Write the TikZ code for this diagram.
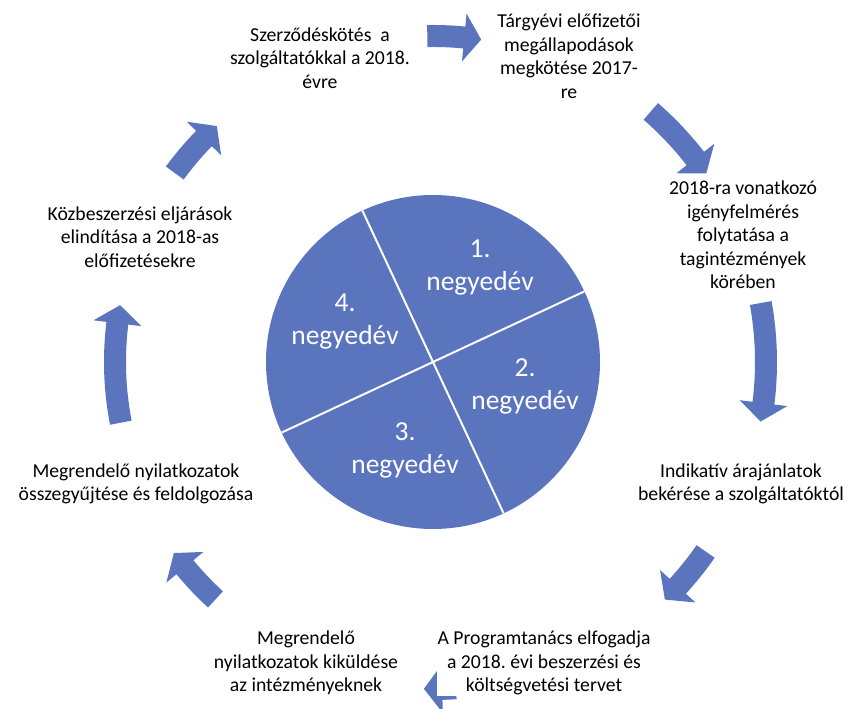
\documentclass[tikz,border=0pt]{standalone}
\usepackage{fontspec}
\setmainfont{Carlito}
\frenchspacing
\newlength{\du}
\setlength{\du}{1pt}
\definecolor{cyclecolor}{RGB}{91,116,190}
% curved block arrow round the cycle centre: tail angle, head base angle, tip angle, radius
\newcommand{\cycarrow}[4]{%
\pgfmathsetmacro{\rout}{#4+11}\pgfmathsetmacro{\rin}{#4-11}%
\pgfmathsetmacro{\hout}{#4+24}\pgfmathsetmacro{\hin}{#4-24}%
\fill[cyclecolor,shift={(433\du,347\du)}] (#1:\rout\du) arc[start angle=#1,end angle=#2,radius=\rout\du]
 -- (#2:\hout\du) -- (#3:#4\du) -- (#2:\hin\du) -- (#2:\rin\du)
 arc[start angle=#2,end angle=#1,radius=\rin\du] -- cycle;}

\begin{document}
\begin{tikzpicture}[
  lbl/.style={align=center,fill=white,inner sep=1pt,font=\fontsize{19.7}{23.5}\selectfont},
  quarter/.style={align=center,text=white,inner sep=0pt,font=\fontsize{27.5}{33}\selectfont},
  sep/.style={draw=white,line width=2\du}]
\useasboundingbox (0\du,0\du) rectangle (857\du,709\du);
\clip (0\du,0\du) rectangle (857\du,709\du);
% arrows
\cycarrow{91}{84.5}{81.5}{326}
\cycarrow{49}{37.8}{34.6}{332}
\cycarrow{10.2}{-7.1}{-10.3}{333}
\cycarrow{-34.8}{-42.5}{-45.7}{332}
\cycarrow{-86}{-88.4}{-91.6}{327}
\cycarrow{-132.5}{-140.4}{-143.6}{322}
\cycarrow{191}{173}{169.7}{318}
\cycarrow{143.8}{135.7}{132.5}{320}
% pie
\coordinate (pc) at (433\du,347\du);
\fill[cyclecolor] (pc) circle[radius=167\du];
\draw[sep] (pc) -- ++(25:167\du);
\draw[sep] (pc) -- ++(115:167\du);
\draw[sep] (pc) -- ++(205:167\du);
\draw[sep] (pc) -- ++(295:167\du);
\node[quarter] (q1) at (480\du,441\du) {1.\\negyedév};
\node[quarter] (q2) at (525\du,323\du) {2.\\negyedév};
\node[quarter] (q3) at (405\du,259\du) {3.\\negyedév};
\node[quarter] (q4) at (345\du,387\du) {4.\\negyedév};
% labels
\node[lbl] (szerz) at (320\du,651\du) {Szerződéskötés\ \ a\\szolgáltatókkal a 2018.\\évre};
\node[lbl] (targy) at (569\du,653\du) {Tárgyévi előfizetői\\megállapodások\\megkötése 2017-\\re};
\node[lbl] (igeny) at (743\du,474\du) {2018-ra vonatkozó\\igényfelmérés\\folytatása a\\tagintézmények\\körében};
\node[lbl] (indik) at (741\du,225\du) {Indikatív árajánlatok\\bekérése a szolgáltatóktól};
\node[lbl] (progr) at (544\du,46\du) {A Programtanács elfogadja\\a 2018. évi beszerzési és\\költségvetési tervet};
\node[lbl] (kikuld) at (306\du,46\du) {Megrendelő\\nyilatkozatok kiküldése\\az intézményeknek};
\node[lbl] (osszegy) at (136\du,225\du) {Megrendelő nyilatkozatok\\összegyűjtése és feldolgozása};
\node[lbl] (kozb) at (140\du,472\du) {Közbeszerzési eljárások\\elindítása a 2018-as\\előfizetésekre};
\end{tikzpicture}
\end{document}
